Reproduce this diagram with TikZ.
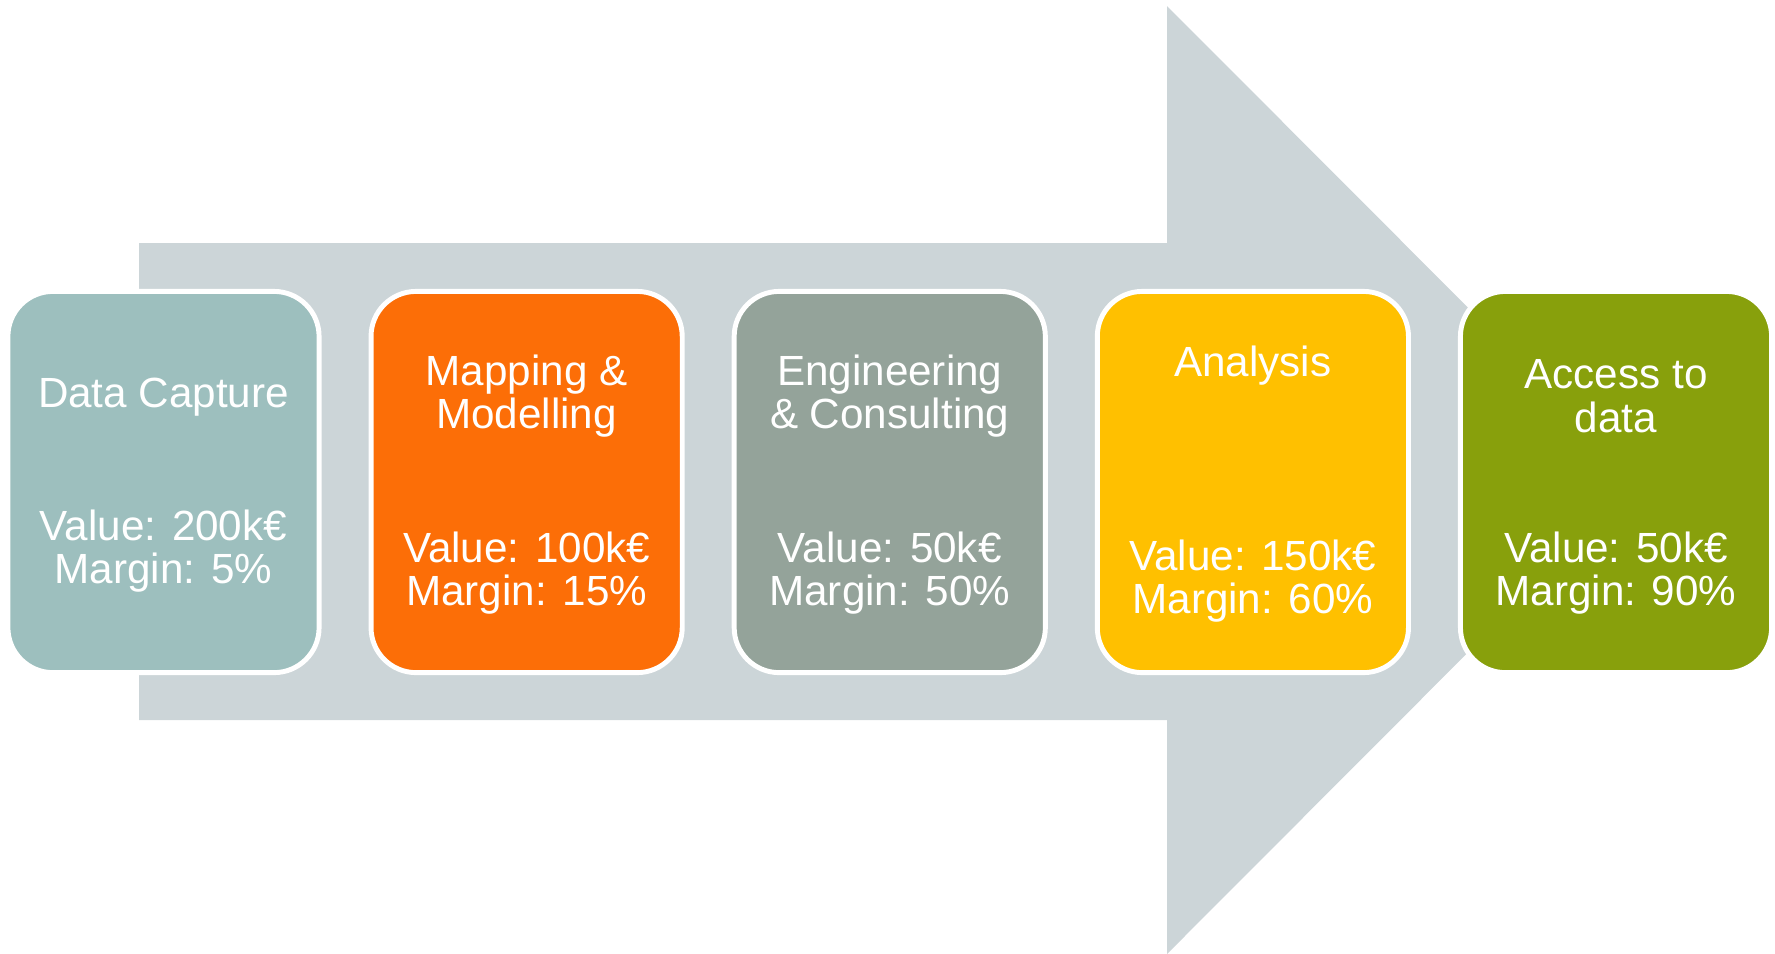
\documentclass[tikz,border=0pt]{standalone}
\usepackage{fontspec}
\setmainfont{Liberation Sans}
\usetikzlibrary{positioning}
\definecolor{arrowgray}{HTML}{CCD5D8}
\definecolor{capturecol}{HTML}{9DBFBE}
\definecolor{mappingcol}{HTML}{FC6E07}
\definecolor{engcol}{HTML}{94A39A}
\definecolor{analysiscol}{HTML}{FFC000}
\definecolor{accesscol}{HTML}{88A00C}
\tikzset{
	stagebox/.style = {rectangle, rounded corners=0.45cm, minimum width=3.11cm, minimum height=3.81cm, draw=white, line width=1.4pt, inner sep=0pt},
	capture/.style = {stagebox, fill=capturecol},
	mapping/.style = {stagebox, fill=mappingcol},
	eng/.style = {stagebox, fill=engcol},
	analysis/.style = {stagebox, fill=analysiscol},
	access/.style = {stagebox, fill=accesscol},
	stagetext/.style = {text=white, align=center, inner sep=0pt, font=\fontsize{12}{12.4}\selectfont}
}

\begin{document}
\begin{tikzpicture}[x=0.01cm, y=-0.01cm, node distance=0.47cm]
		\useasboundingbox (0,0) rectangle (1775,953);
		%背景大箭头
		\fill[arrowgray] (139,243) -- (1167,243) -- (1167,6) -- (1640,480) -- (1167,954) -- (1167,720) -- (139,720) -- cycle;

		%五个阶段
		\node (b1) [capture] at (163.5,482) {};
		\node (b2) [mapping, right=of b1] {};
		\node (b3) [eng, right=of b2] {};
		\node (b4) [analysis, right=of b3] {};
		\node (b5) [access, right=of b4] {};

		%阶段文字
		\node (t1) [stagetext] at ([yshift=-1.08cm]b1.north) {Data Capture};
		\node (v1) [stagetext] at ([yshift=-2.62cm]b1.north) {Value: 200k€\\Margin: 5\%};
		\node (t2) [stagetext] at ([yshift=-1.07cm]b2.north) {Mapping \&\\Modelling};
		\node (v2) [stagetext] at ([yshift=-2.84cm]b2.north) {Value: 100k€\\Margin: 15\%};
		\node (t3) [stagetext] at ([yshift=-1.07cm]b3.north) {Engineering\\\& Consulting};
		\node (v3) [stagetext] at ([yshift=-2.84cm]b3.north) {Value: 50k€\\Margin: 50\%};
		\node (t4) [stagetext] at ([yshift=-0.77cm]b4.north) {Analysis};
		\node (v4) [stagetext] at ([yshift=-2.92cm]b4.north) {Value: 150k€\\Margin: 60\%};
		\node (t5) [stagetext] at ([yshift=-1.07cm]b5.north) {Access to\\data};
		\node (v5) [stagetext] at ([yshift=-2.84cm]b5.north) {Value: 50k€\\Margin: 90\%};
\end{tikzpicture}
\end{document}
